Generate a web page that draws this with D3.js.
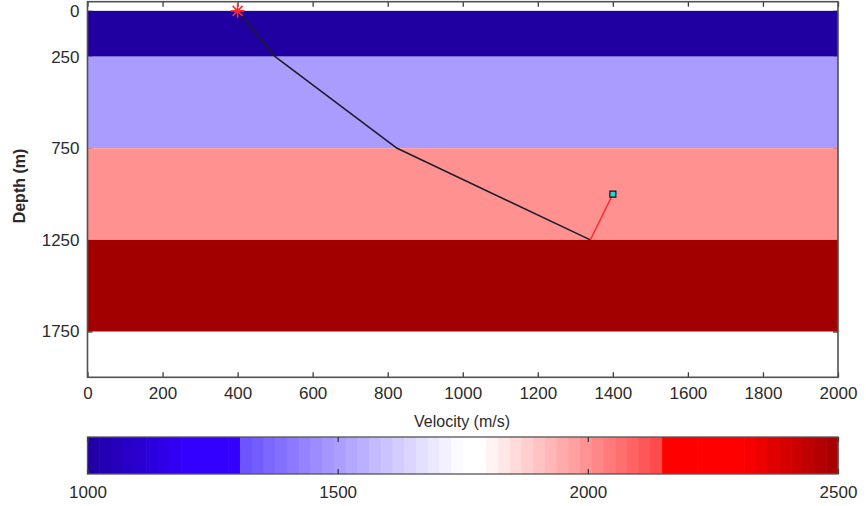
<!DOCTYPE html>
<html>
<head>
<meta charset="utf-8">
<script src="https://cdn.jsdelivr.net/npm/d3@7"></script>
<style>
  body { margin: 0; background: #fff; }
  svg { display: block; }
  text { font-family: "Liberation Sans", Arial, sans-serif; fill: #2b2b2b; }
</style>
</head>
<body>
<svg id="chart" width="866" height="506"></svg>
<script>
// Layered velocity model
const layerTop      = [0, 250, 750, 1250];
const layerBottom   = [250, 750, 1250, 1750];
const layerVelocity = [1000, 1500, 2000, 2500];

// Down-going ray from the source to the reflector
const rayX     = [400, 500, 825, 1340];
const rayDepth = [0, 250, 750, 1250];

// Reflected leg up to the receiver
const reflX     = [1340, 1400];
const reflDepth = [1250, 1000];

const source   = { x: 400, depth: 0 };
const receiver = { x: 1400, depth: 1000 };

// Axis ticks
const xTicks  = [0, 200, 400, 600, 800, 1000, 1200, 1400, 1600, 1800, 2000];
const yTicks  = [0, 250, 750, 1250, 1750];
const cbTicks = [1000, 1500, 2000, 2500];

// Colour map (velocity -> colour), blue-white-red with dark ends
const cmapValues = [1000, 1200, 1310, 1311, 1750, 1785, 2150, 2155, 2310, 2500];
const cmapColors = ["#2000a0", "#3300ff", "#3300ff", "#6a52ff", "#ffffff",
                    "#ffffff", "#ff4444", "#ff0000", "#ff0000", "#a20000"];
const cmapBands = 64;

const svg = d3.select("#chart");

const x = d3.scaleLinear([0, 2000], [87.5, 838]);
const y = d3.scaleLinear([-50, 2000], [1.7, 377.3]);
const cmap = d3.scaleLinear(cmapValues, cmapColors).interpolate(d3.interpolateRgb).clamp(true);

const plot = svg.append("g");

// Inward ticks on all four sides (drawn beneath the layers)
function tickStyle(g) {
  g.select(".domain").remove();
  g.selectAll(".tick line").attr("stroke", "#3a3a3a").attr("stroke-width", 1.3);
  g.selectAll(".tick text").attr("font-size", 17).attr("fill", "#2b2b2b")
    .attr("font-family", "\"Liberation Sans\", Arial, sans-serif");
}
plot.append("g").attr("transform", `translate(0,${y.range()[1]})`)
  .call(d3.axisBottom(x).tickValues(xTicks).tickSize(-5).tickPadding(10).tickFormat(d3.format("d")))
  .call(tickStyle);
plot.append("g").attr("transform", `translate(0,${y.range()[0]})`)
  .call(d3.axisTop(x).tickValues(xTicks).tickSize(-5).tickFormat(""))
  .call(tickStyle);
plot.append("g").attr("transform", `translate(${x.range()[0]},0)`)
  .call(d3.axisLeft(y).tickValues(yTicks).tickSize(-5).tickPadding(8).tickFormat(d3.format("d")))
  .call(tickStyle);
plot.append("g").attr("transform", `translate(${x.range()[1]},0)`)
  .call(d3.axisRight(y).tickValues(yTicks).tickSize(-5).tickFormat(""))
  .call(tickStyle);

// Layers
plot.append("g").selectAll("rect")
  .data(layerTop.map((t, i) => ({ top: t, bottom: layerBottom[i], v: layerVelocity[i] })))
  .join("rect")
  .attr("x", x(0))
  .attr("width", x(2000) - x(0))
  .attr("y", d => y(d.top))
  .attr("height", d => y(d.bottom) - y(d.top))
  .attr("fill", d => cmap(d.v));

// Ray paths
const line = d3.line().x(d => x(d[0])).y(d => y(d[1]));
plot.append("path")
  .attr("d", line(rayX.map((v, i) => [v, rayDepth[i]])))
  .attr("fill", "none").attr("stroke", "#1c1c2a").attr("stroke-width", 1.6)
  .attr("stroke-linejoin", "round");
plot.append("path")
  .attr("d", line(reflX.map((v, i) => [v, reflDepth[i]])))
  .attr("fill", "none").attr("stroke", "#ff2a2a").attr("stroke-width", 1.4);

// Source: asterisk marker
const r = 7;
const star = d3.path();
[0, 45, 90, 135].forEach(a => {
  const rad = a * Math.PI / 180;
  star.moveTo(-r * Math.cos(rad), -r * Math.sin(rad));
  star.lineTo(r * Math.cos(rad), r * Math.sin(rad));
});
plot.append("path")
  .attr("transform", `translate(${x(source.x)},${y(source.depth)})`)
  .attr("d", star.toString())
  .attr("stroke", "#ff2a2a").attr("stroke-width", 1.6).attr("fill", "none");

// Receiver: square marker
plot.append("path")
  .attr("transform", `translate(${x(receiver.x)},${y(receiver.depth)})`)
  .attr("d", d3.symbol(d3.symbolSquare, 36)())
  .attr("fill", "#1fd6de").attr("stroke", "#111").attr("stroke-width", 1.2);

// Axes box
plot.append("rect")
  .attr("x", x(0)).attr("y", y.range()[0])
  .attr("width", x(2000) - x(0)).attr("height", y.range()[1] - y.range()[0])
  .attr("fill", "none").attr("stroke", "#505050").attr("stroke-width", 1.6);

// Axis titles
svg.append("text")
  .attr("x", 462).attr("y", 427)
  .attr("text-anchor", "middle").attr("font-size", 16)
  .text("Velocity (m/s)");
svg.append("text")
  .attr("transform", "translate(25,186) rotate(-90)")
  .attr("text-anchor", "middle").attr("font-size", 16).attr("font-weight", "bold")
  .attr("fill", "#111")
  .text("Depth (m)");

// Colour bar
const cb = d3.scaleLinear([1000, 2500], [87.5, 838]);
const cbTop = 437, cbBottom = 474;
const step = (2500 - 1000) / cmapBands;
const bands = d3.range(cmapBands).map(i => 1000 + i * step);
const cbar = svg.append("g");
cbar.selectAll("rect.band")
  .data(bands)
  .join("rect")
  .attr("class", "band")
  .attr("x", d => cb(d))
  .attr("width", d => cb(d + step) - cb(d) + 0.6)
  .attr("y", cbTop).attr("height", cbBottom - cbTop)
  .attr("fill", d => cmap(d + step / 2));
cbar.append("rect")
  .attr("x", cb(1000)).attr("y", cbTop)
  .attr("width", cb(2500) - cb(1000)).attr("height", cbBottom - cbTop)
  .attr("fill", "none").attr("stroke", "#555").attr("stroke-width", 1.3);
cbar.append("g").attr("transform", `translate(0,${cbBottom})`)
  .call(d3.axisBottom(cb).tickValues(cbTicks).tickSize(-5).tickPadding(12).tickFormat(d3.format("d")))
  .call(tickStyle);
cbar.append("g").attr("transform", `translate(0,${cbTop})`)
  .call(d3.axisTop(cb).tickValues(cbTicks).tickSize(-5).tickFormat(""))
  .call(tickStyle);
</script>
</body>
</html>
